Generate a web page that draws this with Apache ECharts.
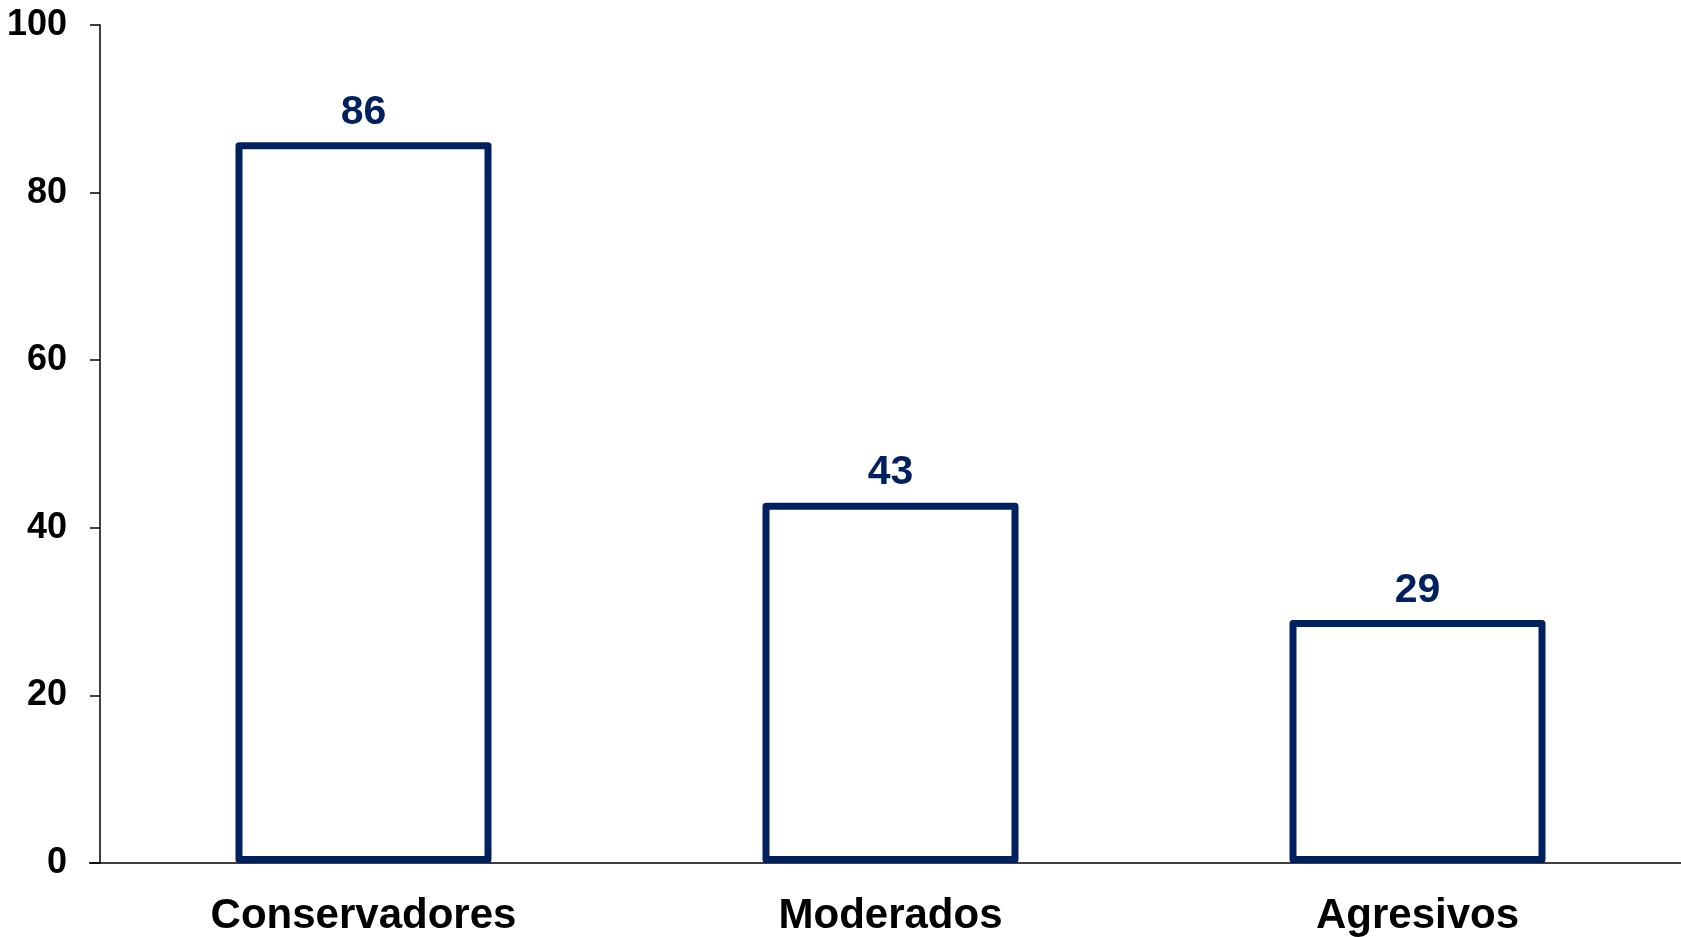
<!DOCTYPE html>
<html>
<head>
<meta charset="utf-8">
<script src="https://cdn.jsdelivr.net/npm/echarts@6/dist/echarts.min.js"></script>
<style>
html,body{margin:0;padding:0;background:#fff;}
#chart{width:1681px;height:937px;}
</style>
</head>
<body>
<div id="chart"></div>
<script>
var categories = ['Conservadores', 'Moderados', 'Agresivos'];
var values = [86, 43, 29];
var yTicks = [0, 20, 40, 60, 80, 100];

var navy = '#002060';
var chart = echarts.init(document.getElementById('chart'));
var fontFam = '"Liberation Sans", Arial, sans-serif';
chart.setOption({
  animation: false,
  grid: {left: 100, right: 0, top: 25, bottom: 74, containLabel: false},
  xAxis: {
    type: 'category',
    data: categories,
    axisLine: {show: true, lineStyle: {color: '#000', width: 1.5}},
    axisTick: {show: false},
    axisLabel: {color: '#000', fontSize: 42, fontWeight: 'bold', fontFamily: fontFam, margin: 32}
  },
  yAxis: {
    type: 'value',
    min: yTicks[0], max: yTicks[yTicks.length - 1], interval: 20,
    axisLine: {show: true, lineStyle: {color: '#000', width: 1.5}},
    axisTick: {show: true, length: 10, lineStyle: {color: '#000', width: 1.5}},
    splitLine: {show: false},
    axisLabel: {color: '#000', fontSize: 36, fontWeight: 'bold', fontFamily: fontFam, margin: 33}
  },
  series: [{
    type: 'bar',
    data: values,
    barWidth: 256,
    itemStyle: {color: '#fff', borderColor: navy, borderWidth: 7, borderJoin: 'round'},
    label: {
      show: true, position: 'top', distance: 9,
      color: navy, fontSize: 41, fontWeight: 'bold', fontFamily: fontFam
    }
  }]
});
var y0 = chart.convertToPixel({yAxisIndex: 0}, 0);
chart.setOption({
  graphic: [{type: 'line', shape: {x1: 89, y1: y0, x2: 100, y2: y0}, style: {stroke: '#000', lineWidth: 1.5}}]
});
</script>
</body>
</html>
